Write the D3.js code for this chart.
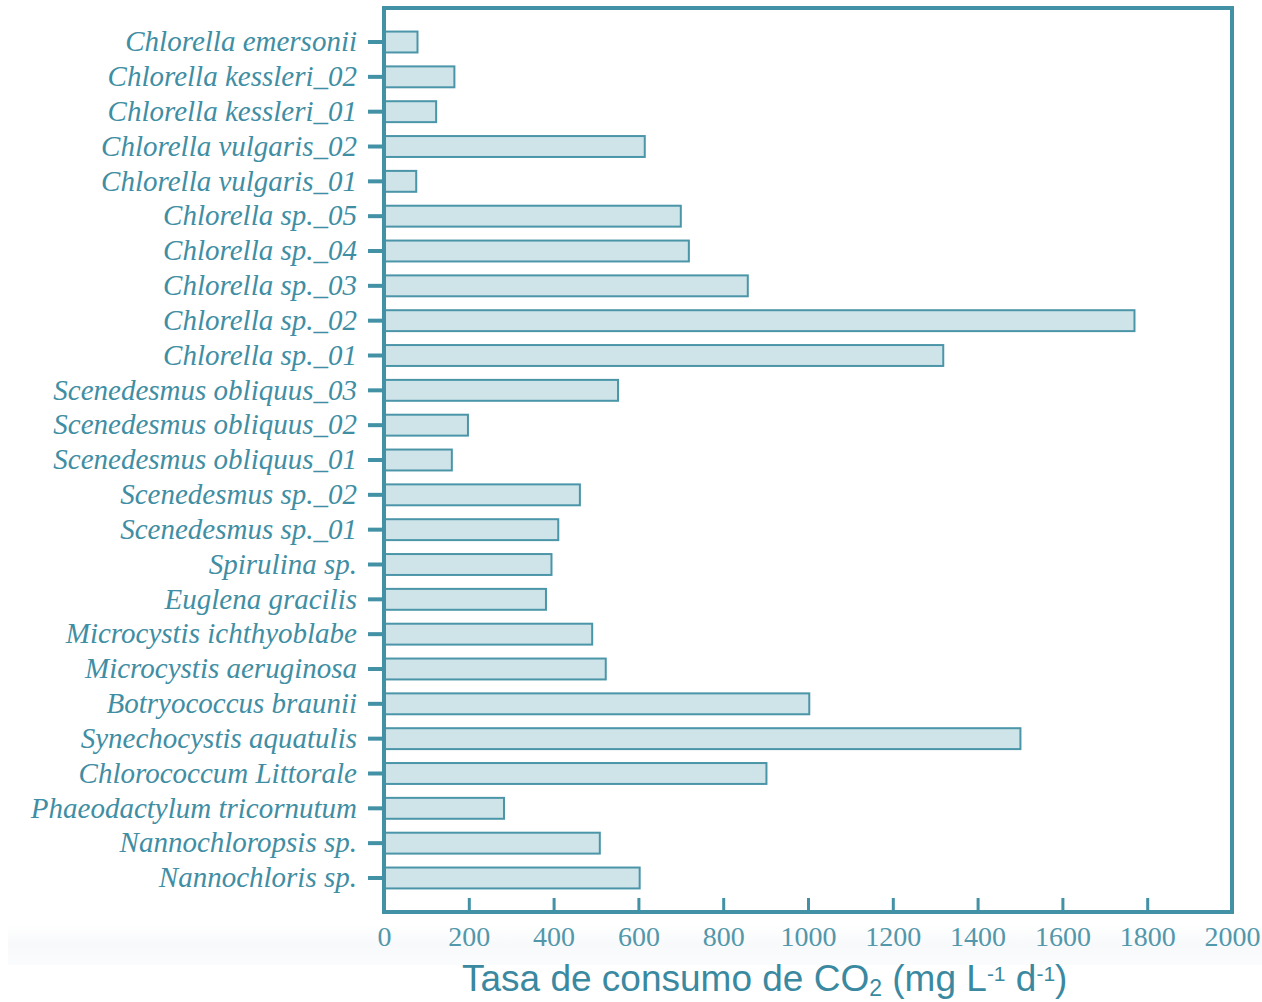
<!DOCTYPE html>
<html>
<head>
<meta charset="utf-8">
<script src="https://cdn.jsdelivr.net/npm/d3@7"></script>
<style>
  html, body { margin: 0; padding: 0; background: #ffffff; }
  svg { display: block; }
</style>
</head>
<body>
<svg id="chart" width="1262" height="1002"></svg>
<script>
const categories = [
  "Chlorella emersonii",
  "Chlorella kessleri_02",
  "Chlorella kessleri_01",
  "Chlorella vulgaris_02",
  "Chlorella vulgaris_01",
  "Chlorella sp._05",
  "Chlorella sp._04",
  "Chlorella sp._03",
  "Chlorella sp._02",
  "Chlorella sp._01",
  "Scenedesmus obliquus_03",
  "Scenedesmus obliquus_02",
  "Scenedesmus obliquus_01",
  "Scenedesmus sp._02",
  "Scenedesmus sp._01",
  "Spirulina sp.",
  "Euglena gracilis",
  "Microcystis ichthyoblabe",
  "Microcystis aeruginosa",
  "Botryococcus braunii",
  "Synechocystis aquatulis",
  "Chlorococcum Littorale",
  "Phaeodactylum tricornutum",
  "Nannochloropsis sp.",
  "Nannochloris sp."
];
const values = [
  79, 166, 123, 615, 76, 700, 719, 858, 1770, 1319,
  552, 198, 160, 462, 411, 395, 382, 491, 523, 1003,
  1501, 902, 283, 509, 603
];
const xTicks = [0, 200, 400, 600, 800, 1000, 1200, 1400, 1600, 1800, 2000];
const xDomain = [0, 2000];

const frameColor = "#4291a5";
const barStroke = "#4a95a8";
const barFill = "#cfe4e9";
const labelColor = "#3f8ea3";
const tickTextColor = "#5297aa";
const titleColor = "#3a89a0";

const svg = d3.select("#chart");

// faint background band near bottom
const defs = svg.append("defs");
const grad = defs.append("linearGradient").attr("id", "bandGrad")
  .attr("x1", 0).attr("y1", 0).attr("x2", 0).attr("y2", 1);
grad.append("stop").attr("offset", "0%").attr("stop-color", "#ffffff");
grad.append("stop").attr("offset", "50%").attr("stop-color", "#f7f9fb");
grad.append("stop").attr("offset", "100%").attr("stop-color", "#fafcfd");
svg.append("rect").attr("x", 8).attr("y", 925).attr("width", 1254).attr("height", 40)
  .attr("fill", "url(#bandGrad)");

const plotLeft = 384, plotRight = 1232, plotTop = 8, plotBottom = 912;

const x = d3.scaleLinear().domain(xDomain).range([plotLeft, plotRight]);
const y = d3.scaleBand().domain(categories)
  .range([24.6, 895.4]).paddingInner(0.4).paddingOuter(0.2);

// bars
svg.append("g").selectAll("rect").data(categories).join("rect")
  .attr("x", x(0) + 1)
  .attr("y", d => y(d))
  .attr("width", (d, i) => x(values[i]) - x(0) - 1)
  .attr("height", y.bandwidth())
  .attr("fill", barFill)
  .attr("stroke", barStroke)
  .attr("stroke-width", 2);

// frame
svg.append("rect")
  .attr("x", plotLeft).attr("y", plotTop)
  .attr("width", plotRight - plotLeft).attr("height", plotBottom - plotTop)
  .attr("fill", "none")
  .attr("stroke", frameColor)
  .attr("stroke-width", 4);

// y axis
const yAxis = svg.append("g")
  .attr("transform", `translate(${plotLeft},0)`)
  .call(d3.axisLeft(y).tickSize(16).tickPadding(11));
yAxis.select(".domain").remove();
yAxis.selectAll(".tick line").attr("stroke", frameColor).attr("stroke-width", 4);
yAxis.selectAll(".tick text")
  .attr("fill", labelColor)
  .style("font-family", "'Liberation Serif', 'DejaVu Serif', serif")
  .style("font-style", "italic")
  .style("font-size", "29px");

// x axis
const xAxis = svg.append("g")
  .attr("transform", `translate(0,${plotBottom})`)
  .call(d3.axisBottom(x).tickValues(xTicks).tickSize(-14).tickPadding(14).tickFormat(d3.format("d")));
xAxis.select(".domain").remove();
xAxis.selectAll(".tick line").attr("stroke", frameColor).attr("stroke-width", 3);
xAxis.selectAll(".tick").filter(d => d === 0 || d === 2000).select("line").remove();
xAxis.selectAll(".tick text")
  .attr("fill", tickTextColor)
  .style("font-family", "'Liberation Serif', 'DejaVu Serif', serif")
  .style("font-size", "28px");

// axis title
const title = svg.append("text")
  .attr("x", 462).attr("y", 991)
  .attr("fill", titleColor)
  .style("font-family", "'Liberation Sans', Arial, sans-serif")
  .style("font-size", "37px");
title.append("tspan").text("Tasa de consumo de CO");
title.append("tspan").attr("dy", 5).style("font-size", "23px").text("2");
title.append("tspan").attr("dy", -5).text(" (mg L");
title.append("tspan").attr("dy", -10).style("font-size", "21px").text("-1");
title.append("tspan").attr("dy", 10).text(" d");
title.append("tspan").attr("dy", -10).style("font-size", "21px").text("-1");
title.append("tspan").attr("dy", 10).text(")");
</script>
</body>
</html>
